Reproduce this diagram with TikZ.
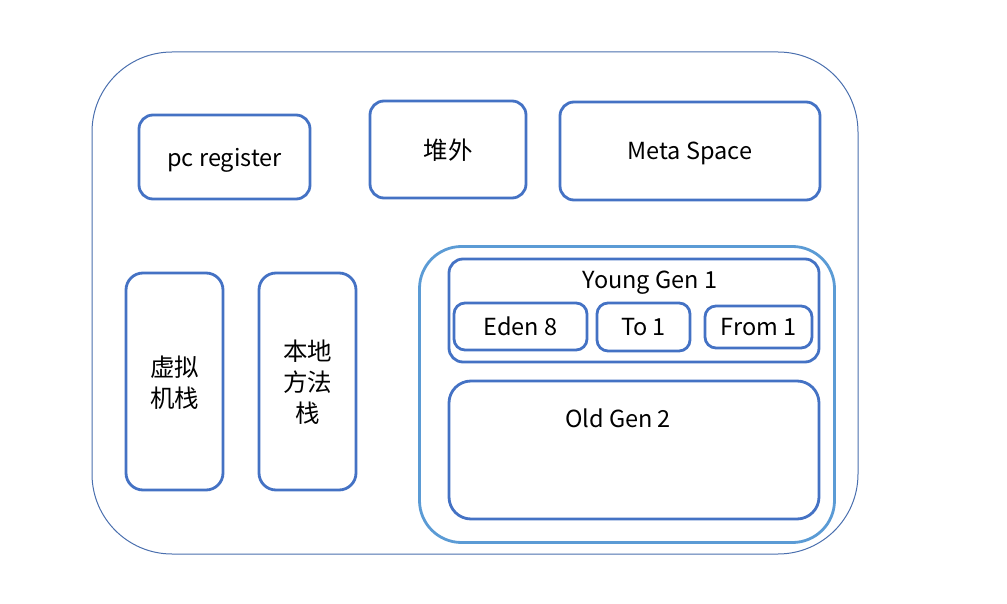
\documentclass[tikz,border=0pt]{standalone}
\usepackage{fontspec}
\setmainfont{Noto Sans CJK SC}
\definecolor{boxblue}{HTML}{4472C4}
\definecolor{heapblue}{HTML}{5B9BD5}
\definecolor{frameblue}{HTML}{4A6FAE}
\begin{document}
\begin{tikzpicture}[x=1pt,y=-1pt,
  box/.style={draw=boxblue,line width=2.8pt,rounded corners=14pt,inner sep=0pt,font=\fontsize{23.5}{31}\selectfont,align=center,text depth=0pt},
  cjkbox/.style={box,font=\fontsize{24.5}{31}\selectfont},
  heapbox/.style={draw=heapblue,line width=2.8pt,rounded corners=42pt,inner sep=0pt},
  frame/.style={draw=frameblue,line width=1pt,rounded corners=80pt,inner sep=0pt},
  lbl/.style={inner sep=0pt,font=\fontsize{23.5}{31}\selectfont}]
\useasboundingbox (0,0) rectangle (1007,604);
\node[frame,minimum width=766pt,minimum height=502pt] (outer) at (475,303) {};
\node[box,minimum width=171pt,minimum height=84pt] (pc) at (224.5,157) {pc register};
\node[cjkbox,minimum width=156pt,minimum height=97pt] (offheap) at (448,149.5) {堆外};
\node[box,minimum width=260pt,minimum height=98pt] (meta) at (690,151) {Meta Space};
\node[cjkbox,rounded corners=17pt,minimum width=97pt,minimum height=217pt] (vmstack) at (174.5,381.5) {虚拟\\机栈};
\node[cjkbox,rounded corners=17pt,minimum width=97pt,minimum height=217pt] (nstack) at (307.5,381.5) {本地\\方法\\栈};
\node[heapbox,minimum width=415pt,minimum height=296pt] (heap) at (627,394.5) {};
\node[box,minimum width=370pt,minimum height=103pt] (young) at (634,310.5) {};
\node[lbl] (younglbl) at (650,283) {Young Gen 1};
\node[box,rounded corners=11pt,minimum width=133pt,minimum height=47pt] (eden) at (520.5,326.5) {Eden 8};
\node[box,rounded corners=11pt,minimum width=93pt,minimum height=48pt] (to) at (643.5,327) {To 1};
\node[box,rounded corners=11pt,minimum width=107pt,minimum height=42pt] (from) at (758.5,327) {From 1};
\node[box,rounded corners=22pt,minimum width=370pt,minimum height=138pt] (old) at (634,450) {};
\node[lbl] (oldlbl) at (618,418) {Old Gen 2};
\end{tikzpicture}
\end{document}
